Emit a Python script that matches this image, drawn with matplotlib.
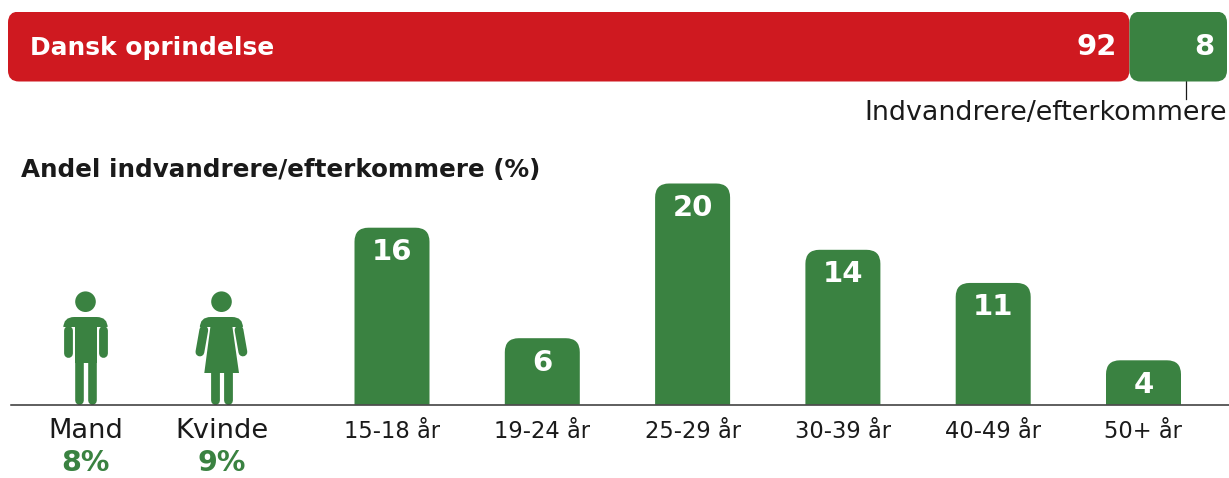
import matplotlib
matplotlib.use('Agg')
import matplotlib.pyplot as plt
from matplotlib.patches import PathPatch, Polygon, Circle, Rectangle
from matplotlib.path import Path

plt.rcParams['font.family'] = ['DejaVu Sans']

W, H = 1229, 478
RED = '#CF1920'
GREEN = '#3A8241'
DARK = '#1a1a1a'

# top bar
share_labels = ['Dansk oprindelse', 'Indvandrere/efterkommere']
share_values = [92, 8]

# bars by age
age_labels = ['15-18 år', '19-24 år', '25-29 år', '30-39 år', '40-49 år', '50+ år']
age_values = [16, 6, 20, 14, 11, 4]

# gender
gender_labels = ['Mand', 'Kvinde']
gender_values = [8, 9]

title = 'Andel indvandrere/efterkommere (%)'


def rounded_bar(ax, x0, x1, y0, y1, rx, ry, bottom_round=True, **kw):
    # rectangle with rounded corners, radii in data units
    verts = [(x0 + rx, y1), (x1 - rx, y1), (x1, y1), (x1, y1 - ry)]
    codes = [Path.MOVETO, Path.LINETO, Path.CURVE3, Path.CURVE3]
    if bottom_round:
        verts += [(x1, y0 + ry), (x1, y0), (x1 - rx, y0), (x0 + rx, y0), (x0, y0), (x0, y0 + ry)]
        codes += [Path.LINETO, Path.CURVE3, Path.CURVE3, Path.LINETO, Path.CURVE3, Path.CURVE3]
    else:
        verts += [(x1, y0), (x0, y0)]
        codes += [Path.LINETO, Path.LINETO]
    verts += [(x0, y1 - ry), (x0, y1), (x0 + rx, y1), (x0 + rx, y1)]
    codes += [Path.LINETO, Path.CURVE3, Path.CURVE3, Path.CLOSEPOLY]
    ax.add_patch(PathPatch(Path(verts, codes), lw=0, **kw))


fig = plt.figure(figsize=(W / 100, H / 100), dpi=100)

# pixel overlay for text and icons
px = fig.add_axes([0, 0, 1, 1])
px.set_xlim(0, W)
px.set_ylim(H, 0)
px.axis('off')

# stacked bar
top_scale = 12.19  # px per percent
ax_top = fig.add_axes([0, (H - 81.5) / H, 1, 70 / H])
ax_top.set_xlim(-8 / top_scale, (W - 8) / top_scale)
ax_top.set_ylim(0, 1)
ax_top.axis('off')
rx = 11 / top_scale
ry = 11 / 70
left = 0
for val, col in zip(share_values, [RED, GREEN]):
    rounded_bar(ax_top, left, left + val, 0, 1, rx, ry, facecolor=col)
    ax_top.text(left + val - 13 / top_scale, 0.53, str(val), color='white', fontsize=21,
                fontweight='bold', ha='right', va='center_baseline')
    left += val
ax_top.text(22 / top_scale, 0.52, share_labels[0], color='white', fontsize=17.9,
            fontweight='bold', ha='left', va='center_baseline')

px.plot([1185.5, 1185.5], [81, 99], color=DARK, lw=0.9)
px.text(1227, 109.5, share_labels[1], ha='right', va='center_baseline', fontsize=19.4, color=DARK)
px.text(21, 167.5, title, ha='left', va='center_baseline', fontsize=17.7, fontweight='bold', color=DARK)

# age bars
unit = 11.05  # px per percent
step = 150.3
x_first = 392
ax_bar = fig.add_axes([0, (H - 404.5) / H, 1, 234.5 / H])
ax_bar.set_facecolor('none')
ax_bar.set_xlim(-x_first / step, (W - x_first) / step)
ax_bar.set_ylim(0, 234.5 / unit)
bw = 75 / step
for i, v in enumerate(age_values):
    rounded_bar(ax_bar, i - bw / 2, i + bw / 2, 0, v, 14 / step, 14 / unit,
                bottom_round=False, facecolor=GREEN)
    ax_bar.text(i, v - 21.5 / unit, str(v), color='white', fontsize=21, fontweight='bold',
                ha='center', va='center_baseline')
for s in ['top', 'left', 'right']:
    ax_bar.spines[s].set_visible(False)
ax_bar.spines['bottom'].set_color('#333333')
ax_bar.spines['bottom'].set_linewidth(1.1)
ax_bar.spines['bottom'].set_bounds((11 - x_first) / step, (W - x_first) / step)
ax_bar.set_yticks([])
ax_bar.set_xticks(range(len(age_labels)), age_labels)
ax_bar.tick_params(axis='x', length=0, pad=11, labelsize=16.3, labelcolor=DARK)

# gender labels
gender_x = [85.5, 221.5]
for x, lab, v in zip(gender_x, gender_labels, gender_values):
    px.text(x, 427.5, lab, ha='center', va='center_baseline', fontsize=19.6, color=DARK)
    px.text(x, 460, f'{v}%', ha='center', va='center_baseline', fontsize=20.5, fontweight='bold', color=GREEN)


def limb(x0, y0, x1, y1, width):
    px.plot([x0, x1], [y0, y1], color=GREEN, lw=width * 0.72, solid_capstyle='round', zorder=3)


# man icon
cx = gender_x[0]
px.add_patch(Circle((cx, 301.7), 10.3, color=GREEN, lw=0))
rounded_bar(px, 63.3, 107.7, 327, 317, 11, -11, bottom_round=False, facecolor=GREEN)
px.add_patch(Rectangle((75, 320), 21.7, 43, color=GREEN, lw=0))
limb(67.7, 330, 67.7, 352.5, 8.8)
limb(103.3, 330, 103.3, 352.5, 8.8)
limb(79.4, 362, 79.4, 400, 8.6)
limb(92.2, 362, 92.2, 400, 8.6)

# woman icon
cx = gender_x[1]
px.add_patch(Circle((cx, 301.7), 10.3, color=GREEN, lw=0))
rounded_bar(px, 199.8, 243, 327, 317, 11, -11, bottom_round=False, facecolor=GREEN)
px.add_patch(Polygon([(210.5, 326), (232.3, 326), (239, 373), (204.3, 373)],
                     closed=True, color=GREEN, lw=0))
limb(203.8, 330, 199.9, 352, 8.8)
limb(239, 330, 242.9, 352, 8.8)
limb(214.8, 372, 214.8, 400, 8.8)
limb(228, 372, 228, 400, 8.8)

fig.savefig('out.png', dpi=100)
